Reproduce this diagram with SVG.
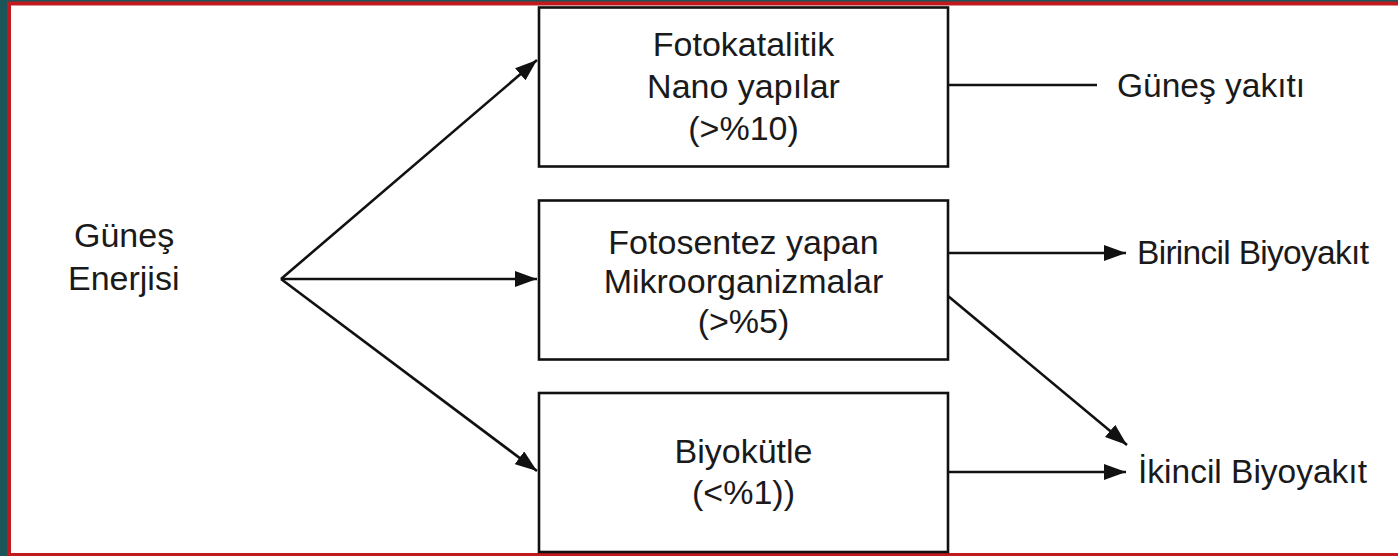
<svg xmlns="http://www.w3.org/2000/svg" width="1398" height="556" viewBox="0 0 1398 556">
  <style>
    .frame-outer { fill: #1c5559; }
    .frame-red { fill: #c01a1e; }
    .box { fill: #ffffff; stroke: #111111; stroke-width: 2.6; }
    .label { font-family: "Liberation Sans", Arial, sans-serif; font-size: 34px; fill: #1a1a1a; }
    .side { font-size: 33.5px; }
    .mid { text-anchor: middle; }
    .wire { fill: none; stroke: #111111; stroke-width: 2.6; }
  </style>
  <defs>
    <marker id="arrow" markerUnits="userSpaceOnUse" markerWidth="24" markerHeight="16" refX="22" refY="8" orient="auto">
      <path d="M0,0 L22,8 L0,16 Z" fill="#111111"/>
    </marker>
  </defs>

  <!-- page frame (open on the right) -->
  <rect class="frame-outer" x="0" y="0" width="1398" height="556"/>
  <rect class="frame-red" x="7" y="1.5" width="1400" height="554.5"/>
  <rect x="11" y="5.5" width="1400" height="547.5" fill="#ffffff"/>

  <!-- connectors -->
  <g id="connectors">
    <line class="wire" x1="281" y1="279" x2="537" y2="60" marker-end="url(#arrow)"/>
    <line class="wire" x1="281" y1="279" x2="537" y2="279" marker-end="url(#arrow)"/>
    <line class="wire" x1="281" y1="279" x2="537" y2="471" marker-end="url(#arrow)"/>
    <line class="wire" x1="948" y1="85" x2="1097" y2="85"/>
    <line class="wire" x1="948" y1="253" x2="1126" y2="253" marker-end="url(#arrow)"/>
    <line class="wire" x1="948" y1="296" x2="1127" y2="445" marker-end="url(#arrow)"/>
    <line class="wire" x1="948" y1="472" x2="1126" y2="472" marker-end="url(#arrow)"/>
  </g>

  <!-- source -->
  <g id="gunes-enerjisi">
    <text class="label" x="74" y="247">Güneş</text>
    <text class="label" x="68" y="290">Enerjisi</text>
  </g>

  <!-- process boxes -->
  <g id="fotokatalitik">
    <rect class="box" x="539" y="7.5" width="409" height="159"/>
    <text class="label mid" x="743.5" y="56">Fotokatalitik</text>
    <text class="label mid" x="743.5" y="98">Nano yapılar</text>
    <text class="label mid" x="743.5" y="140">(&gt;%10)</text>
  </g>
  <g id="fotosentez">
    <rect class="box" x="539" y="200.5" width="409" height="159"/>
    <text class="label mid" x="743.5" y="254">Fotosentez yapan</text>
    <text class="label mid" x="743.5" y="293">Mikroorganizmalar</text>
    <text class="label mid" x="743.5" y="333">(&gt;%5)</text>
  </g>
  <g id="biyokutle">
    <rect class="box" x="539" y="393" width="409" height="159"/>
    <text class="label mid" x="743.5" y="463">Biyokütle</text>
    <text class="label mid" x="743.5" y="504">(&lt;%1))</text>
  </g>

  <!-- outputs -->
  <g id="gunes-yakiti">
    <text class="label side" x="1117" y="97">Güneş yakıtı</text>
  </g>
  <g id="birincil">
    <text class="label side" x="1137" y="264" textLength="232" lengthAdjust="spacing">Birincil Biyoyakıt</text>
  </g>
  <g id="ikincil">
    <text class="label side" x="1138" y="483">İkincil Biyoyakıt</text>
  </g>
</svg>
